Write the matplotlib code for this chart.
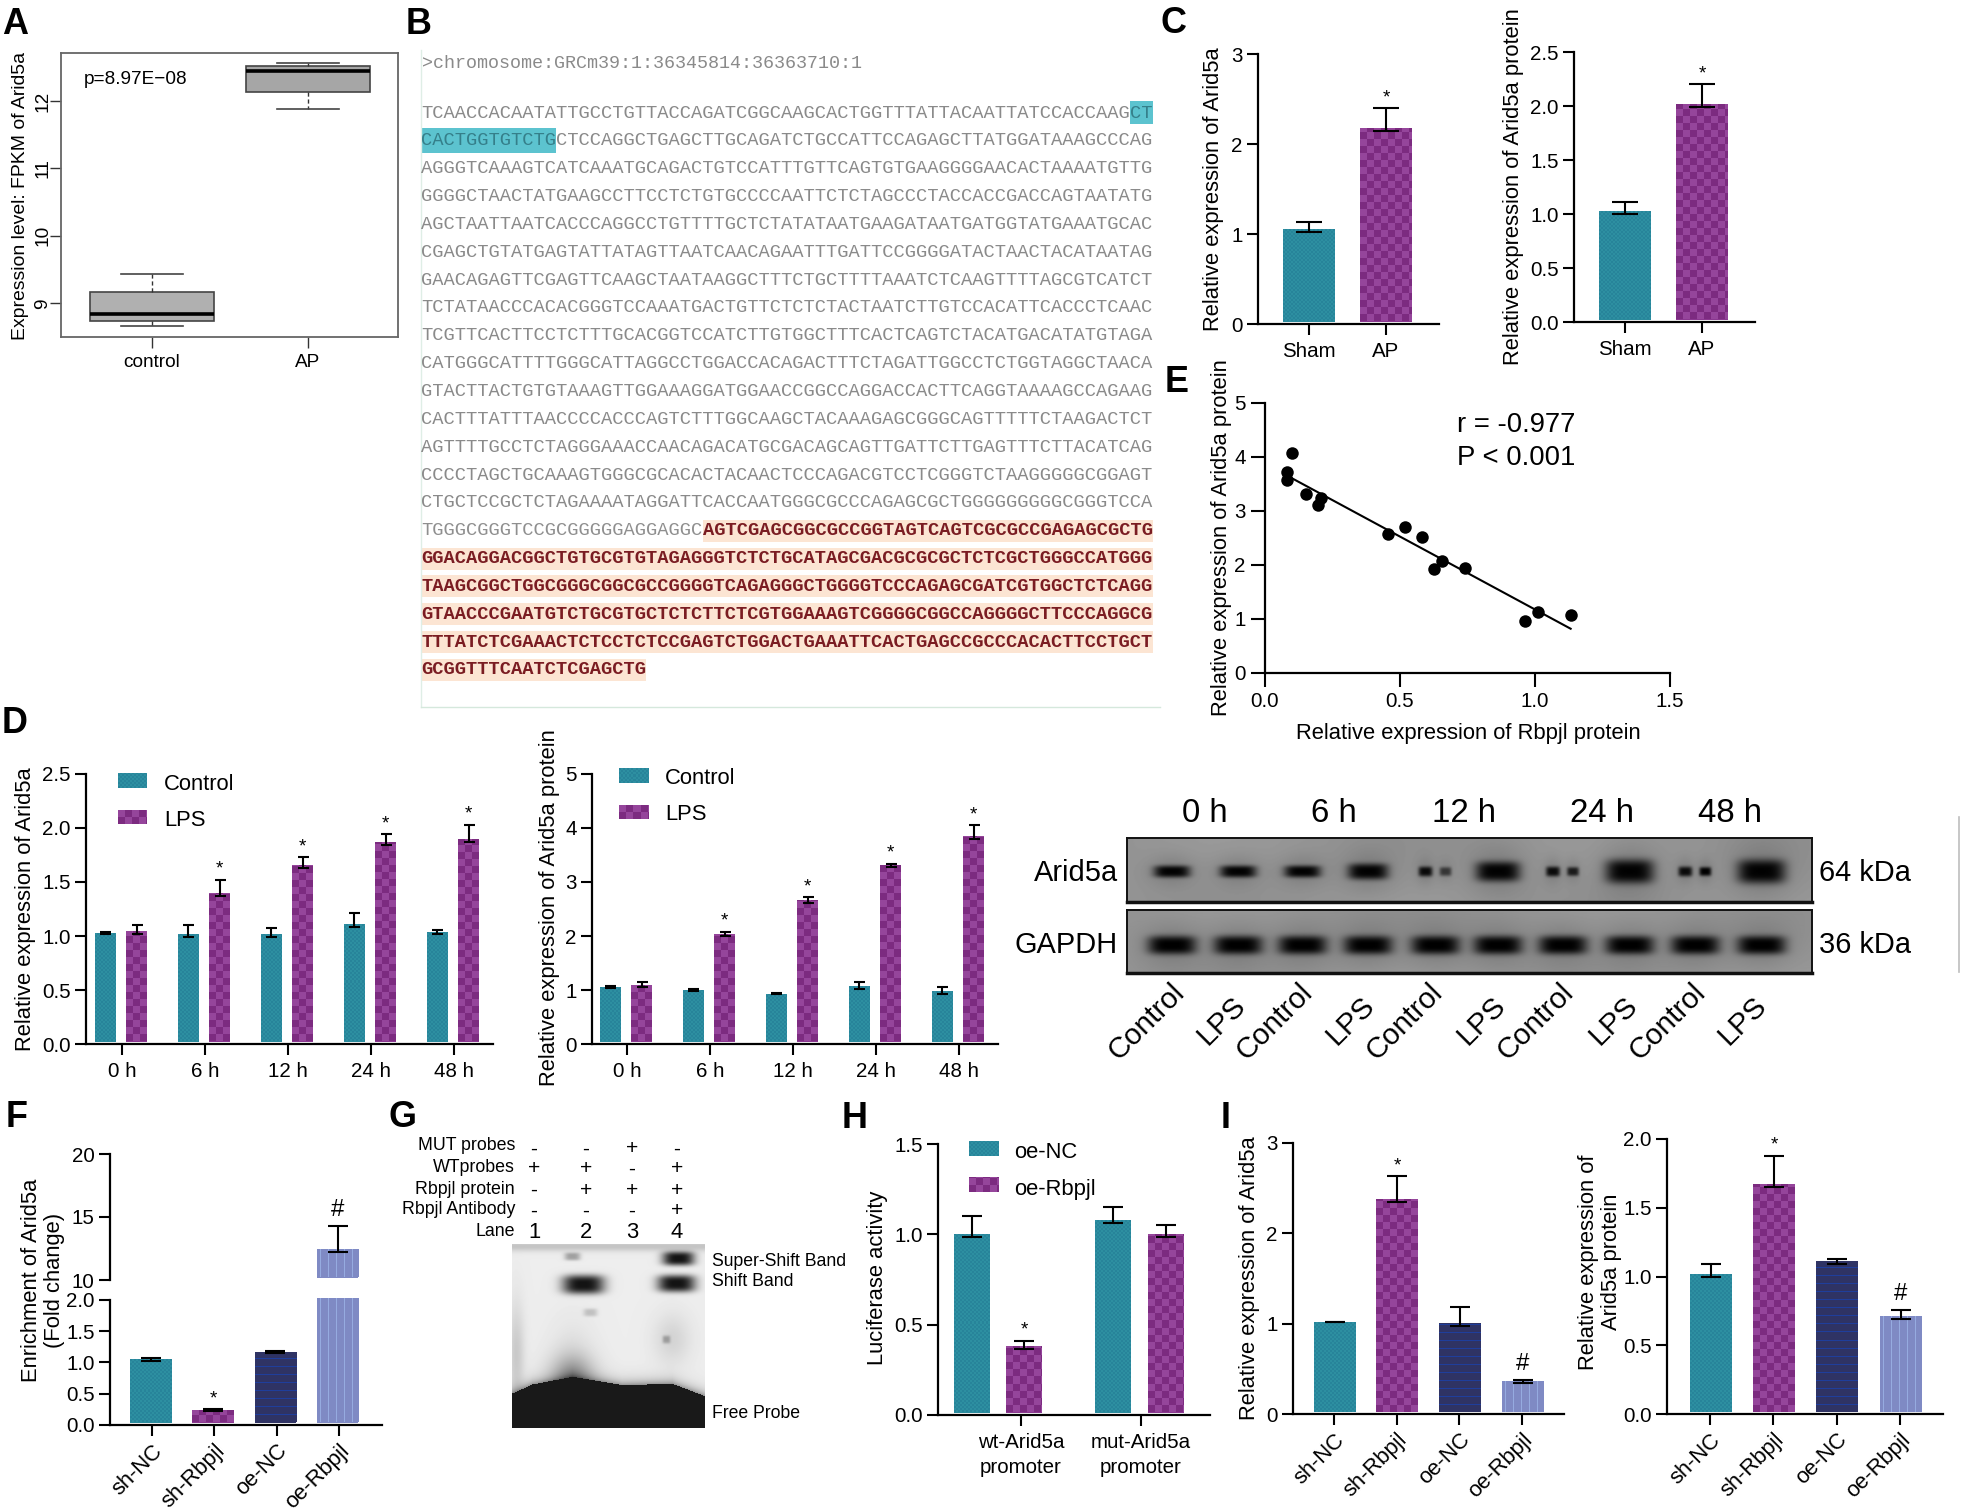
import numpy as np
import matplotlib
matplotlib.use("Agg")
import matplotlib.pyplot as plt
from matplotlib.transforms import Affine2D
from matplotlib.patches import Rectangle
from matplotlib.lines import Line2D

W, H = 1961, 1512
plt.rcParams['font.family'] = ['Liberation Sans', 'DejaVu Sans']
plt.rcParams['axes.linewidth'] = 1.5
fig = plt.figure(figsize=(W / 100, H / 100), dpi=100, facecolor='white')
PX = Affine2D().scale(1, -1).translate(0, H)


def fs(px):
    return px * 0.72


# ---------------- data ----------------
box_labels = ['control', 'AP']
box_control = dict(whislo=8.67, q1=8.73, med=8.84, q3=9.16, whishi=9.44, fliers=[])
box_ap = dict(whislo=11.88, q1=12.13, med=12.45, q3=12.52, whishi=12.56, fliers=[])

c_labels = ['Sham', 'AP']
c1_vals, c1_err = [1.06, 2.18], [0.07, 0.22]
c2_vals, c2_err = [1.03, 2.02], [0.08, 0.18]

hours = ['0 h', '6 h', '12 h', '24 h', '48 h']
d1_ctrl, d1_ctrl_err = [1.03, 1.02, 1.02, 1.11, 1.04], [0.01, 0.08, 0.05, 0.10, 0.02]
d1_lps, d1_lps_err = [1.05, 1.40, 1.66, 1.87, 1.90], [0.05, 0.12, 0.07, 0.07, 0.13]
d2_ctrl, d2_ctrl_err = [1.05, 1.00, 0.93, 1.07, 0.99], [0.02, 0.01, 0.01, 0.08, 0.06]
d2_lps, d2_lps_err = [1.10, 2.04, 2.67, 3.31, 3.85], [0.04, 0.04, 0.05, 0.03, 0.20]

e_x = [0.101, 0.080, 0.080, 0.152, 0.206, 0.195, 0.457, 0.517, 0.581, 0.626, 0.656, 0.740, 0.962, 1.012, 1.132]
e_y = [4.07, 3.72, 3.57, 3.31, 3.25, 3.12, 2.58, 2.71, 2.51, 1.92, 2.07, 1.95, 0.97, 1.13, 1.07]
e_fit_x, e_fit_y = [0.08, 1.132], [3.66, 0.82]

group_labels = ['sh-NC', 'sh-Rbpjl', 'oe-NC', 'oe-Rbpjl']
f_vals, f_err = [1.05, 0.24, 1.17, 12.5], [0.02, 0.01, 0.02, 1.75]
h_labels = ['wt-Arid5a\npromoter', 'mut-Arid5a\npromoter']
h_nc, h_nc_err = [1.00, 1.08], [0.10, 0.07]
h_oe, h_oe_err = [0.38, 1.00], [0.03, 0.05]
i1_vals, i1_err = [1.02, 2.38, 1.01, 0.36], [0.0, 0.25, 0.18, 0.02]
i2_vals, i2_err = [1.02, 1.67, 1.11, 0.71], [0.07, 0.21, 0.02, 0.05]

seq_rows = """TCAACCACAATATTGCCTGTTACCAGATCGGCAAGCACTGGTTTATTACAATTATCCACCAAGCT
CACTGGTGTCTGCTCCAGGCTGAGCTTGCAGATCTGCCATTCCAGAGCTTATGGATAAAGCCCAG
AGGGTCAAAGTCATCAAATGCAGACTGTCCATTTGTTCAGTGTGAAGGGGAACACTAAAATGTTG
GGGGCTAACTATGAAGCCTTCCTCTGTGCCCCAATTCTCTAGCCCTACCACCGACCAGTAATATG
AGCTAATTAATCACCCAGGCCTGTTTTGCTCTATATAATGAAGATAATGATGGTATGAAATGCAC
CGAGCTGTATGAGTATTATAGTTAATCAACAGAATTTGATTCCGGGGATACTAACTACATAATAG
GAACAGAGTTCGAGTTCAAGCTAATAAGGCTTTCTGCTTTTAAATCTCAAGTTTTAGCGTCATCT
TCTATAACCCACACGGGTCCAAATGACTGTTCTCTCTACTAATCTTGTCCACATTCACCCTCAAC
TCGTTCACTTCCTCTTTGCACGGTCCATCTTGTGGCTTTCACTCAGTCTACATGACATATGTAGA
CATGGGCATTTTGGGCATTAGGCCTGGACCACAGACTTTCTAGATTGGCCTCTGGTAGGCTAACA
GTACTTACTGTGTAAAGTTGGAAAGGATGGAACCGGCCAGGACCACTTCAGGTAAAAGCCAGAAG
CACTTTATTTAACCCCACCCAGTCTTTGGCAAGCTACAAAGAGCGGGCAGTTTTTCTAAGACTCT
AGTTTTGCCTCTAGGGAAACCAACAGACATGCGACAGCAGTTGATTCTTGAGTTTCTTACATCAG
CCCCTAGCTGCAAAGTGGGCGCACACTACAACTCCCAGACGTCCTCGGGTCTAAGGGGGCGGAGT
CTGCTCCGCTCTAGAAAATAGGATTCACCAATGGGCGCCCAGAGCGCTGGGGGGGGGCGGGTCCA
TGGGCGGGTCCGCGGGGGAGGAGGCAGTCGAGCGGCGCCGGTAGTCAGTCGCGCCGAGAGCGCTG
GGACAGGACGGCTGTGCGTGTAGAGGGTCTCTGCATAGCGACGCGCGCTCTCGCTGGGCCATGGG
TAAGCGGCTGGCGGGCGGCGCCGGGGTCAGAGGGCTGGGGTCCCAGAGCGATCGTGGCTCTCAGG
GTAACCCGAATGTCTGCGTGCTCTCTTCTCGTGGAAAGTCGGGGCGGCCAGGGGCTTCCCAGGCG
TTTATCTCGAAACTCTCCTCTCCGAGTCTGGACTGAAATTCACTGAGCCGCCCACACTTCCTGCT
GCGGTTTCAATCTCGAGCTG""".split('\n')
blot_times = ['0 h', '6 h', '12 h', '24 h', '48 h']
blot_lanes = ['Control', 'LPS'] * 5
gel_rows = ['MUT probes', 'WTprobes', 'Rbpjl protein', 'Rbpjl Antibody', 'Lane']
gel_marks = [list('--+-'), list('++-+'), list('-+++'), list('---+'), list('1234')]
gel_bands = ['Super-Shift Band', 'Shift Band', 'Free Probe']

TICK = 20.5
LAB = 22


# ---------------- helpers ----------------
def hexrgb(c):
    return np.array(matplotlib.colors.to_rgb(c))


def texture(kind, w, h):
    w, h = max(int(round(w)), 1), max(int(round(h)), 1)
    yy, xx = np.mgrid[0:h, 0:w]
    yy = h - 1 - yy
    img = np.zeros((h, w, 3))
    if kind == 'teal':
        m = ((xx // 2 + yy // 2) % 2)[..., None]
        img = m * hexrgb('#2d8fa1') + (1 - m) * hexrgb('#27849a')
    elif kind == 'purple':
        m = ((xx // 7 + yy // 7) % 2)[..., None]
        img = m * hexrgb('#95459b') + (1 - m) * hexrgb('#7c2b80')
    elif kind == 'navy':
        m = ((yy % 8) == 7)[..., None]
        img = m * hexrgb('#1f3e9c') + (1 - m) * hexrgb('#2f3364')
    elif kind == 'peri':
        m = ((xx % 8) == 3)[..., None]
        img = m * hexrgb('#96abe0') + (1 - m) * hexrgb('#7f8ac4')
    return img


BASE = {'teal': '#2a8a9c', 'purple': '#8a3890', 'navy': '#2f3364', 'peri': '#7f8ac4'}


def panel_axes(spine, end, top, zero):
    ax = fig.add_axes([spine / W, 1 - zero / H, (end - spine) / W, (zero - top) / H])
    ax.patch.set_alpha(0)
    for s in ('top', 'right'):
        ax.spines[s].set_visible(False)
    ax.spines['left'].set_linewidth(1.6)
    ax.spines['bottom'].set_linewidth(1.6)
    ax.tick_params(width=1.5, length=8, labelsize=fs(TICK), pad=3)
    ax.tick_params(axis='x', pad=5)
    return ax


def bar_axes(spine, end, top, zero, t0, step, ylim, yticks, ylabels):
    ax = panel_axes(spine, end, top, zero)
    ax.set_xlim((spine - t0) / step, (end - t0) / step)
    ax.set_ylim(*ylim)
    ax.set_autoscale_on(False)
    ax.set_yticks(yticks)
    ax.set_yticklabels(ylabels)
    ax._pxstep = step
    return ax


def tbar(ax, x, val, kind, bw_px, err=None, cap_px=14, gap=2.5, mark=None):
    """x in tick units; draws a textured bar, its error bar and significance mark."""
    y0, y1 = ax.get_ylim()
    bb = ax.get_position()
    hpx = bb.height * H
    upp = (y1 - y0) / hpx
    bottom = y0 + gap * upp
    top = min(val, y1)
    bw = bw_px / ax._pxstep
    rects = ax.bar([x], [top - bottom], width=bw, bottom=bottom, color=BASE[kind], linewidth=0, zorder=2)
    im = ax.imshow(texture(kind, bw_px, (top - bottom) / upp), extent=(x - bw / 2, x + bw / 2, bottom, top),
                   aspect='auto', interpolation='nearest', zorder=2.1)
    im.set_clip_path(rects[0])
    if err is not None and val <= y1:
        ax.errorbar([x], [val], yerr=[[min(err, 3 * upp)], [err]], fmt='none', ecolor='black', elinewidth=1.5,
                    capsize=cap_px * 0.36, capthick=1.5, zorder=3)
    if mark:
        size = 19 if mark == '*' else 24
        dy = (err or 0)
        off_px = {'*': 2, '#': 5}[mark]
        ax.annotate(mark, (x, val + dy), xytext=(0, off_px * 0.72), textcoords='offset points', ha='center',
                    va='bottom', fontsize=fs(size), zorder=4)


def legend_tex(x0, x1, y0, y1, kind):
    ax = fig.add_axes([x0 / W, 1 - y1 / H, (x1 - x0) / W, (y1 - y0) / H])
    ax.imshow(texture(kind, x1 - x0, y1 - y0), aspect='auto', interpolation='nearest')
    ax.axis('off')


def T(x, y, s, size=TICK, ha='left', va='center', **kw):
    return fig.text(x, y, s, transform=PX, fontsize=fs(size), ha=ha, va=va, **kw)


def ylab(ax, s, x, y, size=LAB):
    ax.set_ylabel(s, fontsize=fs(size), va='center', linespacing=1.17)
    ax.yaxis.set_label_coords(x + 3, y, transform=PX)


def rot_labels(ax, labels, size=22):
    ax.set_xticks(range(len(labels)))
    ax.set_xticklabels(labels, rotation=45, ha='right', va='top', rotation_mode='anchor', fontsize=fs(size))
    ax.tick_params(axis='x', pad=3)


# ---------------- panel letters ----------------
for s, x, y in [('A', 2, 34), ('B', 406, 34), ('C', 1161, 33), ('D', 2, 733), ('E', 1165, 392),
                ('F', 6, 1127), ('G', 389, 1127), ('H', 842, 1128), ('I', 1221, 1128)]:
    T(x, y, s, size=36, va='baseline', fontweight='bold')

# ---------------- A ----------------
axA = fig.add_axes([61 / W, 1 - 337 / H, 337 / W, 284 / H])
bp = axA.bxp([box_control, box_ap], positions=[1, 2], widths=0.8, patch_artist=True, showfliers=False,
             boxprops=dict(facecolor='#b0b0b0', edgecolor='#444444', linewidth=1.2),
             medianprops=dict(color='black', linewidth=2.6),
             whiskerprops=dict(color='#333333', linestyle=(0, (3, 2)), linewidth=1),
             capprops=dict(color='#444444', linewidth=1.2))
bp['boxes'][1].set_facecolor('#a6a6a6')
axA.set_xlim(0.417, 2.577)
axA.set_ylim(8.5, 12.71)
axA.set_xticks([1, 2])
axA.set_xticklabels(box_labels, fontsize=fs(19))
axA.set_yticks([9, 10, 11, 12])
axA.set_yticklabels(['9', '10', '11', '12'], rotation=90, va='center', fontsize=fs(19))
axA.tick_params(length=8, width=1, color='#333333', pad=4)
axA.tick_params(axis='y', pad=-1)
for s in axA.spines.values():
    s.set_color('#666666')
    s.set_linewidth(1.3)
ylab(axA, 'Expression level: FPKM of Arid5a', 18, 196, size=19.4)
axA.text(84, 79, 'p=8.97E\u221208', transform=PX, fontsize=fs(19), va='center')

# ---------------- B ----------------
fig.add_artist(Line2D([421, 421], [50, 707], transform=PX, color='#dfeee6', lw=1))
fig.add_artist(Line2D([421, 1160], [707, 707], transform=PX, color='#d5e8dc', lw=1))
T(422, 64, '>chromosome:GRCm39:1:36345814:36363710:1', size=18.4, family='Liberation Mono', color='#8a8a8a')
CW = 732 / 65
seq_size = CW / 0.6
row_y = 113
row_dy = 27.85
for i, row in enumerate(seq_rows):
    y = row_y + i * row_dy
    if i == 0:
        fig.add_artist(Rectangle((421 + 63 * CW, 101), 2 * CW, 23, transform=PX, color='#5cc3cf', lw=0))
        T(421, y, row[:63], size=seq_size, family='Liberation Mono', color='#8a8a8a')
        T(421 + 63 * CW, y, row[63:], size=seq_size, family='Liberation Mono', color='#357f8a')
        continue
    if i == 1:
        fig.add_artist(Rectangle((421, 128), 12 * CW, 25, transform=PX, color='#5cc3cf', lw=0))
        T(421, y, row[:12], size=seq_size, family='Liberation Mono', color='#357f8a')
        T(421 + 12 * CW, y, row[12:], size=seq_size, family='Liberation Mono', color='#8a8a8a')
        continue
    start = 25 if i == 15 else (0 if i > 15 else None)
    if start is not None:
        fig.add_artist(Rectangle((421 + start * CW, y - 11), (len(row) - start) * CW, 22, transform=PX,
                                 color='#fce5d3', lw=0))
        if start:
            T(421, y, row[:start], size=seq_size, family='Liberation Mono', color='#8f8f8f')
        T(421 + start * CW, y, row[start:], size=seq_size, family='Liberation Mono', color='#7a1c22',
          fontweight='bold')
    else:
        T(421, y, row, size=seq_size, family='Liberation Mono', color='#8a8a8a')

# ---------------- C ----------------
axC1 = bar_axes(1258, 1439, 54, 324, 1309, 77, (0, 3), [0, 1, 2, 3], ['0', '1', '2', '3'])
tbar(axC1, 0, c1_vals[0], 'teal', 52, c1_err[0], 26)
tbar(axC1, 1, c1_vals[1], 'purple', 52, c1_err[1], 26, mark='*')
axC1.set_xticks([0, 1]); axC1.set_xticklabels(c_labels)
ylab(axC1, 'Relative expression of Arid5a', 1211, 189)

axC2 = bar_axes(1574, 1755, 52, 322, 1625, 77, (0, 2.5), [0, .5, 1, 1.5, 2, 2.5],
                ['0.0', '0.5', '1.0', '1.5', '2.0', '2.5'])
tbar(axC2, 0, c2_vals[0], 'teal', 52, c2_err[0], 26)
tbar(axC2, 1, c2_vals[1], 'purple', 52, c2_err[1], 26, mark='*')
axC2.set_xticks([0, 1]); axC2.set_xticklabels(c_labels)
ylab(axC2, 'Relative expression of Arid5a protein', 1511, 187)

# ---------------- D ----------------
axD1 = bar_axes(86, 493, 774, 1044, 122, 83, (0, 2.5), [0, .5, 1, 1.5, 2, 2.5],
                ['0.0', '0.5', '1.0', '1.5', '2.0', '2.5'])
axD2 = bar_axes(592, 998, 774, 1044, 627, 83, (0, 5), [0, 1, 2, 3, 4, 5], ['0', '1', '2', '3', '4', '5'])
for ax, ctrl, ce, lps, le in [(axD1, d1_ctrl, d1_ctrl_err, d1_lps, d1_lps_err),
                              (axD2, d2_ctrl, d2_ctrl_err, d2_lps, d2_lps_err)]:
    for i in range(5):
        tbar(ax, i - 0.2, ctrl[i], 'teal', 21, ce[i], 11)
        tbar(ax, i + 0.175, lps[i], 'purple', 21, le[i], 11, mark='*' if i else None)
    ax.set_xticks(range(5)); ax.set_xticklabels(hours)
ylab(axD1, 'Relative expression of Arid5a', 23, 909)
ylab(axD2, 'Relative expression of Arid5a protein', 546, 908)
legend_tex(118, 147, 773, 788, 'teal'); legend_tex(118, 147, 810, 824, 'purple')
T(164, 785, 'Control', size=22); T(164, 821, 'LPS', size=22)
legend_tex(619, 648, 768, 783, 'teal'); legend_tex(619, 648, 805, 819, 'purple')
T(665, 779, 'Control', size=22); T(665, 815, 'LPS', size=22)


# blot
def band_img(w, h, bands, bg):
    yy, xx = np.mgrid[0:h, 0:w]
    img = np.full((h, w), bg, dtype=float)
    img += 0.02 * np.sin(xx / 60.0) * np.cos(yy / 25.0)
    for cx, cy, wx, wy, amp in bands:
        g = np.exp(-(((xx - cx) / wx) ** 2) ** 2 - (((yy - cy) / wy) ** 2) ** 1.6)
        halo = np.exp(-((xx - cx) / (wx * 1.3)) ** 2 - ((yy - cy) / (wy * 2.6)) ** 2)
        img = img * (1 - amp * g) * (1 - 0.15 * amp * halo)
    return np.clip(img, 0, 1)


bx0, bx1 = 1127, 1812
lane_px = [1000 + v / 1.632 for v in (280, 388, 493, 600, 710, 812, 918, 1027, 1134, 1242)]
arid = []
for i, lx in enumerate(lane_px):
    cx = lx - bx0
    if i in (4, 6, 8):
        arid += [(cx - 10, 33, 7, 5, .92), (cx + 10, 33, 6, 4.5, .6 + .1 * (i - 4))]
    else:
        wid = [18, 18, 18, 20, 0, 22, 0, 24, 0, 24][i]
        hh = [6, 6, 6, 8, 0, 10, 0, 12, 0, 12][i]
        arid.append((cx, 33, wid, hh, .98))
gap_b = [(lx - bx0, 35, 24, 9, 1.0) for lx in lane_px]
for (top, bot, bands) in [(838, 902, arid), (910, 973, gap_b)]:
    a = fig.add_axes([bx0 / W, 1 - bot / H, (bx1 - bx0) / W, (bot - top) / H])
    a.imshow(band_img(bx1 - bx0, bot - top, bands, 0.58), cmap='gray', vmin=0, vmax=1, aspect='auto')
    a.set_xticks([]); a.set_yticks([])
    for s in a.spines.values():
        s.set_linewidth(1.4); s.set_color('#111111')
    a.spines['bottom'].set_linewidth(2.5)
for t, x in zip(blot_times, (1205, 1334, 1464, 1602, 1730)):
    T(x, 814, t, size=33, ha='center')
T(1118, 873, 'Arid5a', size=29, ha='right'); T(1118, 945, 'GAPDH', size=29, ha='right')
T(1819, 873, '64 kDa', size=29); T(1819, 945, '36 kDa', size=29)
for s, x, y in zip(blot_lanes,
                   (1184, 1245, 1312, 1374, 1442, 1505, 1573, 1637, 1705, 1766),
                   (980, 993) * 5):
    fig.text(x - 14, y - 2, s, transform=PX, fontsize=fs(29.5), rotation=45, ha='right', va='top',
             rotation_mode='anchor')
fig.add_artist(Line2D([1958.5, 1958.5], [817, 972], transform=PX, color='#bdbdbd', lw=1.2))

# ---------------- E ----------------
axE = panel_axes(1265, 1670, 403, 673)
axE.set_xlim(0, 1.5); axE.set_ylim(0, 5)
axE.plot(e_fit_x, e_fit_y, color='black', lw=1.5, zorder=2)
axE.scatter(e_x, e_y, s=(12.5 * 0.72) ** 2, color='black', zorder=3, linewidths=0)
axE.set_xticks([0, .5, 1, 1.5]); axE.set_xticklabels(['0.0', '0.5', '1.0', '1.5'])
axE.set_yticks(range(6))
axE.tick_params(length=10, pad=4)
axE.set_xlabel('Relative expression of Rbpjl protein', fontsize=fs(LAB), va='center')
axE.xaxis.set_label_coords(1468, 733, transform=PX)
ylab(axE, 'Relative expression of Arid5a protein', 1219, 538)
T(1457, 425, 'r = -0.977', size=27.5); T(1457, 458, 'P < 0.001', size=27.5)

# ---------------- F ----------------
axF = bar_axes(110, 382, 1297.7, 1425, 152, 62.3, (0, 2.036), [0, .5, 1, 1.5, 2], ['0.0', '0.5', '1.0', '1.5', '2.0'])
axF.spines['left'].set_bounds(0, 2)
axFu = bar_axes(110, 382, 1154, 1280, 152, 62.3, (10, 20), [10, 15, 20], ['10', '15', '20'])
axFu.spines['bottom'].set_visible(False); axFu.set_xticks([])
kinds = ['teal', 'purple', 'navy', 'peri']
marks = [None, '*', None, None]
for i in range(3):
    tbar(axF, i - 0.02, f_vals[i], kinds[i], 41.5, f_err[i], 20, mark=marks[i])
tbar(axF, 3 - 0.02, f_vals[3], 'peri', 41.5)
tbar(axFu, 3 - 0.02, f_vals[3], 'peri', 41.5, f_err[3], 20, mark='#')
rot_labels(axF, group_labels)
ylab(axF, 'Enrichment of Arid5a\n(Fold change)', 40, 1280)

# ---------------- G ----------------
gel_w, gel_h = 193, 184
yy, xx = np.mgrid[0:gel_h, 0:gel_w]
gel = 0.93 - 0.07 * np.exp(-((xx - 60) / 22.0) ** 2) * np.exp(-((yy - 120) / 40.0) ** 2)
gel -= 0.14 * np.exp(-((xx - 4) / 8.0) ** 2) * np.exp(-((yy - 110) / 50.0) ** 2)
gel -= 0.25 * np.exp(-((xx - 60) / 22.0) ** 2) * np.exp(-((yy - 130) / 20.0) ** 2)
gel -= 0.10 * np.exp(-((xx - 160) / 18.0) ** 2) * np.exp(-((yy - 95) / 25.0) ** 2)
gel -= 0.16 * np.exp(-((yy - 2) / 5.0) ** 2)
edge_x = np.array([0, 60, 180, 330, 480, 578]) / 3
edge_y = np.array([447, 420, 397, 422, 418, 455]) / 3
edge = np.interp(xx[0], edge_x, edge_y)
gel -= 0.35 * np.exp(-np.clip(edge - yy, 0, None) / 5.0)
gel = np.where(yy >= edge, 0.1, gel)
for cx, cy, wx, wy, amp in [(71, 40, 21, 9.5, 1.0), (164, 39, 19, 8.5, 1.0), (166, 14, 16, 7, 1.0),
                            (60, 12, 8, 4, .35), (78, 68, 7, 4, .2), (154, 95, 4, 4, .3)]:
    g = np.exp(-(((xx - cx) / wx) ** 2) ** 1.6 - (((yy - cy) / wy) ** 2) ** 1.6)
    gel = gel * (1 - amp * g * 0.92)
axG = fig.add_axes([512 / W, 1 - 1428 / H, 193 / W, 184 / H])
axG.imshow(gel, cmap='gray', vmin=0, vmax=1, aspect='auto', interpolation='bilinear')
axG.axis('off')
for s, y in zip(gel_rows, (1146, 1167, 1189, 1209, 1231)):
    T(515, y, s, size=17.7, ha='right')
for r, (marks_r, y) in enumerate(zip(gel_marks, (1149, 1169, 1190, 1211, 1232))):
    for m, x in zip(marks_r, (534, 586, 632, 677)):
        T(x, y, m, size=22 if r == 4 else 21, ha='center')
for s, y in zip(gel_bands, (1261, 1282, 1413)):
    T(712, y, s, size=17.6)

# ---------------- H ----------------
axH = bar_axes(938, 1210, 1144, 1415, 1021, 120, (0, 1.5), [0, .5, 1, 1.5], ['0.0', '0.5', '1.0', '1.5'])
tbar(axH, -0.41, h_nc[0], 'teal', 36, h_nc_err[0], 20)
tbar(axH, 0.025, h_oe[0], 'purple', 36, h_oe_err[0], 20, mark='*')
tbar(axH, 0.77, h_nc[1], 'teal', 36, h_nc_err[1], 20)
tbar(axH, 1.21, h_oe[1], 'purple', 36, h_oe_err[1], 20)
axH.set_xticks([0, 1]); axH.set_xticklabels(h_labels, linespacing=1.4)
ylab(axH, 'Luciferase activity', 875, 1278)
legend_tex(969, 999, 1141, 1156, 'teal'); legend_tex(969, 999, 1177, 1192, 'purple')
T(1014, 1152, 'oe-NC', size=22); T(1014, 1189, 'oe-Rbpjl', size=22)

# ---------------- I ----------------
axI1 = bar_axes(1293, 1564, 1143, 1414, 1334, 62.7, (0, 3), [0, 1, 2, 3], ['0', '1', '2', '3'])
axI2 = bar_axes(1667, 1943, 1139, 1414, 1710, 63.3, (0, 2), [0, .5, 1, 1.5, 2], ['0.0', '0.5', '1.0', '1.5', '2.0'])
for ax, vals, errs, mk in [(axI1, i1_vals, i1_err, [None, '*', None, '#']),
                           (axI2, i2_vals, i2_err, [None, '*', None, '#'])]:
    for i in range(4):
        tbar(ax, i + 0.01, vals[i], kinds[i], 42, errs[i] if errs[i] > 0 else 0.001, 20, mark=mk[i])
    rot_labels(ax, group_labels)
ylab(axI1, 'Relative expression of Arid5a', 1246, 1278)
ylab(axI2, 'Relative expression of\nArid5a protein', 1597, 1262)

fig.savefig('out.png', dpi=100, facecolor='white')
